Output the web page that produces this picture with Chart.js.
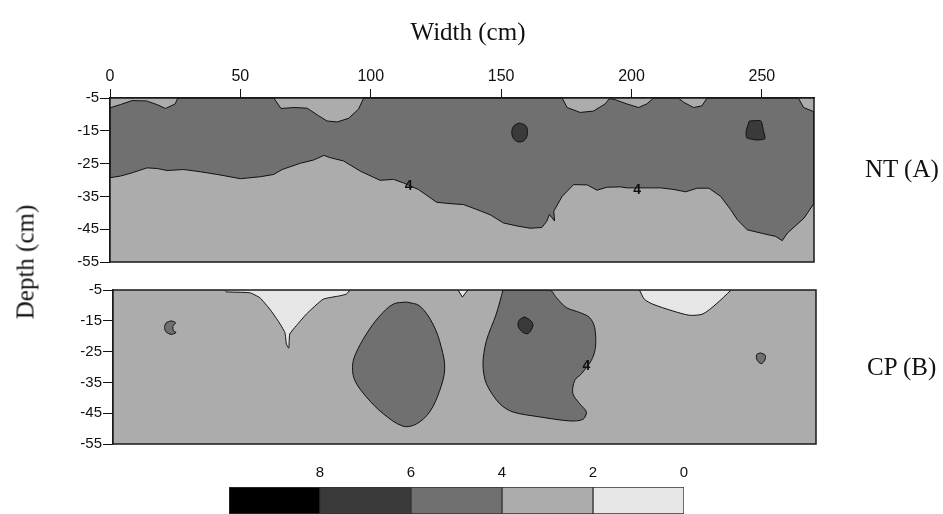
<!DOCTYPE html>
<html>
<head>
<meta charset="utf-8">
<script src="https://cdn.jsdelivr.net/npm/chart.js@4.4.1/dist/chart.umd.min.js"></script>
<style>
  html, body { margin: 0; padding: 0; background: #fff; }
  #wrap { position: relative; width: 943px; height: 514px; overflow: hidden; background: #fff; }
  canvas { position: absolute; }
  .lbl { position: absolute; font-family: "Liberation Serif", "Times New Roman", serif; font-size: 25px; color: #111; white-space: nowrap; line-height: 1; }
</style>
</head>
<body>
<div id="wrap">
  <canvas id="nt" width="943" height="275" style="left:0;top:0;width:943px;height:275px"></canvas>
  <canvas id="cp" width="943" height="175" style="left:0;top:280px;width:943px;height:175px"></canvas>
  <canvas id="leg" width="943" height="74" style="left:0;top:440px;width:943px;height:74px"></canvas>
  <div class="lbl" style="left:468px;top:31px;transform:translate(-50%,-50%)">Width (cm)</div>
  <div class="lbl" style="left:25px;top:262px;transform:translate(-50%,-50%) rotate(-90deg)">Depth (cm)</div>
  <div class="lbl" style="left:865px;top:168px;transform:translateY(-50%)">NT (A)</div>
  <div class="lbl" style="left:867px;top:366px;transform:translateY(-50%)">CP (B)</div>
</div>
<script>
// ---------------- data (width cm, depth cm) ----------------
const widthTicks = [0, 50, 100, 150, 200, 250];
const depthTicks = [-5, -15, -25, -35, -45, -55];
const widthRange = [0, 270];
const depthRange = [-55, -5];

const classColors = ['#000000', '#3a3a3a', '#707070', '#acacac', '#e6e6e6'];
const classRanges = [[8, 10], [6, 8], [4, 6], [2, 4], [0, 2]];
const legendTicks = [8, 6, 4, 2, 0];

// NT (A): upper edge of the 4-6 band (2-4 bumps from the surface)
const ntBandTop = [
  [0,-8.0],[4,-7.0],[8.5,-5.8],[14,-5.9],[18,-7.0],[21.3,-8.2],[25,-6.8],[26,-5],
  [62.8,-5],[65.6,-8.2],[70.5,-7.9],[75.6,-8.1],[80,-10.4],[83.2,-12],[87.1,-12.3],[91.5,-11.2],[95.3,-8.4],[97.3,-5],
  [173.4,-5],[175.3,-7.9],[180.3,-9.4],[185.4,-9.0],[189.9,-6.8],[191.5,-5.2],[193.7,-5.5],[198.2,-6.8],[202.7,-7.9],[205.9,-6.8],[208.5,-5],
  [218,-5],[220,-6.3],[223.8,-7.9],[227,-7.4],[229,-5],
  [264,-5],[266,-7.9],[270,-9.2]
];
// NT (A): the "4" isoline (lower edge of the 4-6 band)
const ntBandBottom = [
  [0,-29.3],[4,-28.8],[8.5,-27.8],[14.2,-26.3],[18.1,-26.5],[21.9,-27.1],[28.3,-26.8],[34.7,-27.5],[41.1,-28.3],
  [50,-29.6],[57.7,-29.0],[62.8,-28.3],[66,-26.8],[73,-24.9],[78.1,-23.9],[82,-22.5],[84.5,-23.2],[89.6,-24.2],
  [96,-27.3],[103.6,-30.1],[108.7,-29.8],[112.6,-30.9],[118.3,-32.9],[125.3,-36.8],[130.4,-37.2],[135.6,-37.5],
  [140.7,-39.0],[145.8,-40.6],[150.9,-43.1],[156,-44.0],[161.1,-44.7],[165.6,-44.5],[167.5,-42.6],[168.5,-40.5],
  [170.5,-42.5],[170.2,-39.5],[173.4,-35.0],[177.8,-31.4],[183,-31.5],[186.8,-33.1],[190.6,-32.2],[195.8,-32.1],
  [198.3,-32.4],[211.2,-32.4],[216.3,-32.9],[220.8,-33.6],[225.2,-32.5],[229.7,-32.5],[234.2,-35],[238,-39],
  [240.6,-42.1],[244.4,-45.2],[250.8,-46.4],[255.3,-47.2],[257.8,-48.5],[259.8,-46.2],[266.2,-41.6],[270,-37.1]
];
// NT (A): 6-8 spots
const ntSpotA = [[157.1,-12.6],[159.5,-13.5],[160.1,-15.5],[159.3,-17.6],[157.1,-18.4],[155,-17.6],[154.1,-15.5],[155,-13.4],[157.1,-12.6]];
const ntSpotB = [[245.2,-12.0],[249.6,-12.0],[250.6,-15.0],[251.2,-17.4],[248.1,-17.8],[244.2,-17.1],[244.0,-15.0],[245.2,-12.0]];
const ntLabels = [[114.5,-31.9,'4'],[202.2,-33.0,'4']];

// CP (B): 4-6 patches
const cpBlobA = [[112.7,-8.9],[117.8,-10.2],[122.9,-16.1],[126.1,-23.6],[127.4,-30.6],[125.5,-37.6],[121.6,-44.6],[116.5,-48.5],
  [111.4,-49.2],[103.7,-45.1],[97.3,-39.7],[92.9,-34.4],[92.0,-30.1],[92.9,-26.3],[97.3,-19.3],[102.5,-13.4],[107.6,-9.6],[112.7,-8.9]];
const cpBlobB = [[149.8,-5],[167.7,-5],[170.3,-7.5],[174.1,-10.7],[179.2,-12.3],[183.0,-13.9],[185.0,-17.2],[185.3,-23.6],
  [183.7,-27.9],[179.9,-32.2],[177.3,-34.4],[176.6,-38.6],[179.2,-41.9],[181.8,-44.6],[180.5,-47.0],[175.4,-47.5],
  [163.9,-46.2],[153.6,-44.6],[148.5,-41.9],[143.4,-35.4],[142.1,-29.0],[143.4,-21.5],[147.2,-12.8],[149.8,-5]];
const cpSpotLeft = [[22.3,-15.0],[24.0,-15.6],[23.0,-16.8],[23.2,-18.2],[24.2,-18.8],[22.3,-19.4],[20.4,-18.6],[19.8,-17.2],[20.4,-15.7],[22.3,-15.0]];
const cpSpotRight = [[248.6,-25.4],[250.5,-26.2],[250.3,-27.8],[249.0,-28.9],[247.4,-27.8],[247.2,-26.0],[248.6,-25.4]];
// CP (B): 6-8 spot
const cpSpotDark = [[158.0,-13.7],[160.5,-15.0],[161.3,-16.6],[159.5,-19.1],[157.5,-18.8],[155.6,-16.8],[156.0,-14.8],[158.0,-13.7]];
// CP (B): 0-2 areas
const cpLightA = [[43,-5],[43.5,-5.6],[52.5,-5.9],[56.4,-7.5],[60.2,-11.2],[63.4,-15],[66,-18.8],[66.6,-22.5],[67.5,-23.9],
  [67.9,-19.3],[70.4,-16.6],[74.3,-12.8],[80.7,-8],[87.1,-6.9],[89.7,-6.3],[91,-5]];
const cpLightB = [[202.2,-5],[204.1,-8.0],[207.3,-9.6],[215,-11.8],[221.4,-13.2],[226.5,-12.8],[231.6,-9.6],[237.4,-5]];
const cpLightC = [[132.5,-5],[134.2,-7.3],[136.3,-5]];
const cpLabels = [[181.8,-29.8,'4']];

// ---------------- helpers ----------------
const pts = a => a.map(p => ({x: p[0], y: p[1]}));
function poly(points, color, order, tension) {
  return {
    data: pts(points), showLine: true, fill: 'shape', backgroundColor: color,
    borderColor: '#111', borderWidth: 1, pointRadius: 0, pointHoverRadius: 0,
    tension: tension || 0, order: order
  };
}
const band = ntBandTop.concat(ntBandBottom.slice().reverse());
band.push(ntBandTop[0]);

const panelPlugin = {
  id: 'panel',
  beforeDatasetsDraw(chart, args, opts) {
    const a = chart.chartArea, ctx = chart.ctx;
    ctx.save(); ctx.fillStyle = opts.base; ctx.fillRect(a.left, a.top, a.right - a.left, a.bottom - a.top); ctx.restore();
  },
  afterDatasetsDraw(chart, args, opts) {
    const a = chart.chartArea, ctx = chart.ctx;
    const xs = chart.scales.x, ys = chart.scales.y;
    ctx.save();
    ctx.fillStyle = '#111';
    ctx.font = 'bold 14px "Liberation Sans", Arial, sans-serif';
    ctx.textAlign = 'center'; ctx.textBaseline = 'middle';
    (opts.labels || []).forEach(l => {
      ctx.fillText(l[2], xs.getPixelForValue(l[0]), ys.getPixelForValue(l[1]));
    });
    ctx.strokeStyle = '#1a1a1a'; ctx.lineWidth = 1.5;
    ctx.strokeRect(a.left, a.top, a.right - a.left, a.bottom - a.top);
    ctx.restore();
  }
};

function panelOptions(showX, yWidth, padding, labels) {
  return {
    responsive: false, animation: false, devicePixelRatio: 1,
    layout: { padding: padding },
    plugins: { legend: { display: false }, tooltip: { enabled: false }, panel: { base: classColors[3], labels: labels } },
    scales: {
      x: {
        type: 'linear', position: 'top', min: widthRange[0], max: widthRange[1], display: showX,
        afterBuildTicks: s => { s.ticks = widthTicks.map(v => ({value: v})); },
        afterFit: s => { s.height = showX ? 40 : 0; },
        grid: { display: true, drawOnChartArea: false, drawTicks: true, tickLength: 9, color: '#111', lineWidth: 1 },
        border: { display: true, color: '#1a1a1a', width: 1.5 },
        ticks: { color: '#111', padding: 3, maxRotation: 0, font: { family: '"Liberation Sans", Arial, sans-serif', size: 16 } }
      },
      y: {
        type: 'linear', min: depthRange[0], max: depthRange[1],
        afterBuildTicks: s => { s.ticks = depthTicks.map(v => ({value: v})); },
        afterFit: s => { s.width = yWidth; },
        grid: { display: true, drawOnChartArea: false, drawTicks: true, tickLength: 10, color: '#111', lineWidth: 1 },
        border: { display: true, color: '#1a1a1a', width: 1.5 },
        ticks: { color: '#111', padding: 1, font: { family: '"Liberation Sans", Arial, sans-serif', size: 15 } }
      }
    }
  };
}

new Chart(document.getElementById('nt'), {
  type: 'scatter',
  data: { datasets: [
    poly(ntSpotA, classColors[1], 1, 0.4),
    poly(ntSpotB, classColors[1], 1, 0.2),
    poly(band, classColors[2], 4, 0)
  ] },
  options: panelOptions(true, 110, { left: 0, right: 129, top: 58, bottom: 13 }, ntLabels),
  plugins: [panelPlugin]
});

new Chart(document.getElementById('cp'), {
  type: 'scatter',
  data: { datasets: [
    poly(cpSpotDark, classColors[1], 1, 0.3),
    poly(cpSpotLeft, classColors[2], 2, 0.3),
    poly(cpSpotRight, classColors[2], 2, 0.3),
    poly(cpBlobA, classColors[2], 3, 0.35),
    poly(cpBlobB, classColors[2], 3, 0.3),
    poly(cpLightA, classColors[4], 3, 0.15),
    poly(cpLightB, classColors[4], 3, 0.25),
    poly(cpLightC, classColors[4], 3, 0)
  ] },
  options: panelOptions(false, 113, { left: 0, right: 127, top: 9, bottom: 11 }, cpLabels),
  plugins: [panelPlugin]
});

new Chart(document.getElementById('leg'), {
  type: 'bar',
  data: {
    labels: [''],
    datasets: classRanges.map((r, i) => ({
      data: [r], backgroundColor: classColors[i], borderColor: '#333', borderWidth: 1, borderSkipped: false,
      grouped: false, barPercentage: 1, categoryPercentage: 1
    }))
  },
  options: {
    indexAxis: 'y', responsive: false, animation: false, devicePixelRatio: 1,
    layout: { padding: { left: 229, right: 259, top: 17, bottom: 0 } },
    plugins: { legend: { display: false }, tooltip: { enabled: false } },
    scales: {
      x: {
        type: 'linear', position: 'top', reverse: true, min: 0, max: 10,
        afterBuildTicks: s => { s.ticks = legendTicks.map(v => ({value: v})); },
        afterFit: s => { s.height = 30; },
        grid: { display: false, drawTicks: false }, border: { display: false },
        ticks: { color: '#111', padding: 5, font: { family: '"Liberation Sans", Arial, sans-serif', size: 15 } }
      },
      y: { display: false }
    }
  }
});
</script>
</body>
</html>
